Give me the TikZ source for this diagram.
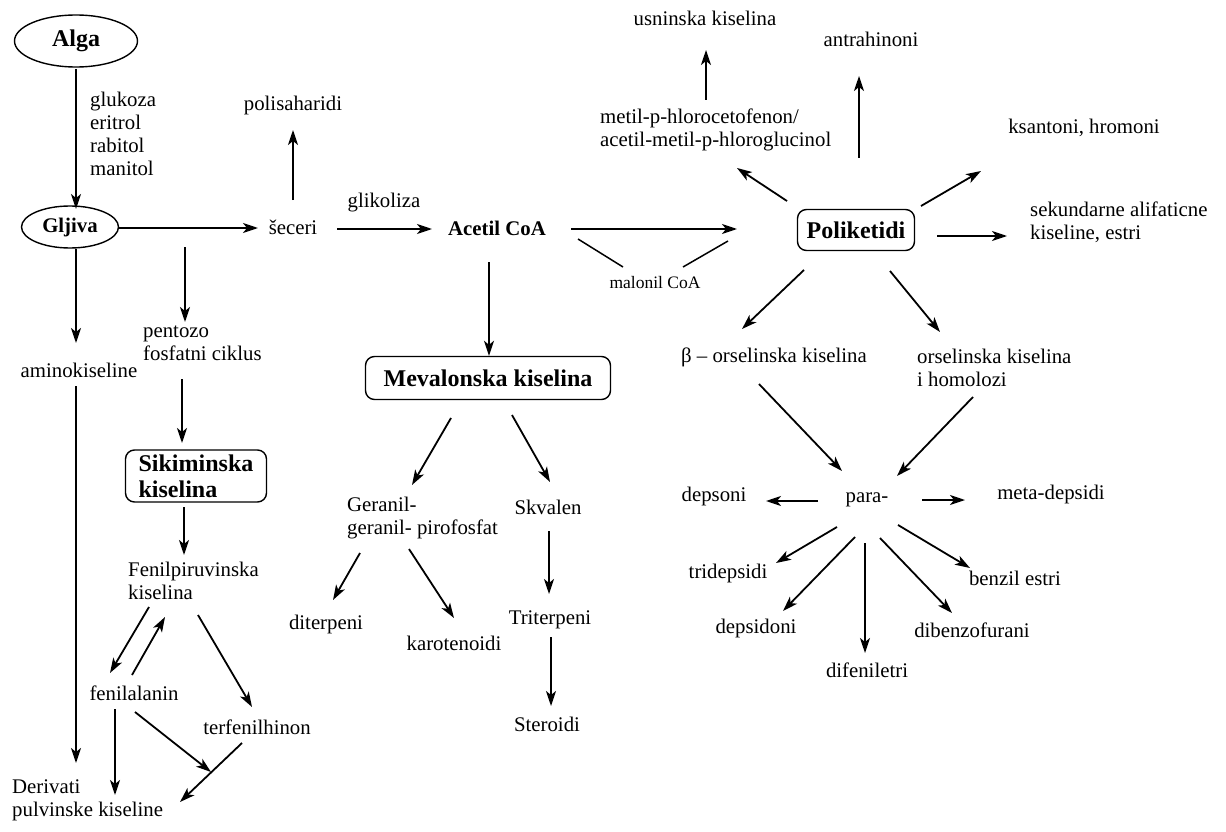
\documentclass[tikz,border=0pt]{standalone}
\usepackage{fontspec}
\setmainfont{Liberation Serif}
\usetikzlibrary{arrows.meta,positioning,shapes.geometric}

\begin{document}
\begin{tikzpicture}[x=1pt,y=-1pt,>={Stealth[length=15pt,width=10pt,inset=4pt]}]
  \tikzset{lbl/.style={inner sep=0pt, align=left, font=\fontsize{20.8}{23}\selectfont},
    block/.style={draw, rounded corners=9pt, line width=1.4pt, inner sep=0pt,
      font=\fontsize{24}{26}\selectfont\bfseries, align=left},
    oval/.style={draw, ellipse, line width=1.4pt, inner sep=0pt},
    arr/.style={->, line width=1.8pt},
    bond/.style={line width=1.5pt}}
  \useasboundingbox (0,0) rectangle (1226,832);

  % left part
  \node[oval, minimum width=123pt, minimum height=52pt,
    font=\fontsize{24}{26}\selectfont\bfseries] (alga) at (76,41) {Alga};
  \node[oval, minimum width=97pt, minimum height=42pt,
    font=\fontsize{20.8}{23}\selectfont\bfseries] (gljiva) at (70,227) {Gljiva};
  \node[lbl, anchor=west] (sugars) at (90,134) {glukoza\\eritrol\\rabitol\\manitol};
  \node[lbl] (secer) at (293,227) {šeceri};
  \node[lbl] (polisah) at (293,105) {polisaharidi};
  \node[lbl] (glik) at (384,203) {glikoliza};
  \node[lbl, font=\fontsize{20.8}{23}\selectfont\bfseries] (acetil) at (497,228) {Acetil CoA};
  \node[lbl, font=\fontsize{17.5}{20}\selectfont] (malonil) at (655,283) {malonil CoA};
  \node[lbl] (amino) at (79,370) {aminokiseline};
  \node[lbl, anchor=west] (pentozo) at (143,343) {pentozo\\fosfatni ciklus};
  \node[block, minimum width=141pt, minimum height=52pt] (sikim) at (196,476) {Sikiminska\\kiselina};
  \node[lbl, anchor=west] (fenilpir) at (128,581) {Fenilpiruvinska\\kiselina};
  \node[lbl] (fenilala) at (134,693) {fenilalanin};
  \node[lbl] (terfenil) at (257,727) {terfenilhinon};
  \node[lbl, anchor=west] (deriv) at (12,800) {Derivati\\pulvinske kiseline};
  \coordinate (fork) at (185,247);
  \coordinate (join) at (211,772);

  % mevalonska
  \node[block, minimum width=245pt, minimum height=43pt] (meva) at (488,378) {Mevalonska kiselina};
  \node[lbl, anchor=west] (geranil) at (347,518) {Geranil-\\geranil- pirofosfat};
  \node[lbl] (skvalen) at (548,507) {Skvalen};
  \node[lbl] (diterp) at (326,624) {diterpeni};
  \node[lbl] (karot) at (454,643) {karotenoidi};
  \node[lbl] (triterp) at (550,620) {Triterpeni};
  \node[lbl] (steroid) at (547,724) {Steroidi};

  % poliketidi
  \node[block, minimum width=117pt, minimum height=41pt] (poli) at (856,230) {Poliketidi};
  \node[lbl] (usnin) at (705,18) {usninska kiselina};
  \node[lbl, anchor=west] (metil) at (600,130) {metil-p-hlorocetofenon/\\acetil-metil-p-hloroglucinol};
  \node[lbl] (antrah) at (871,39) {antrahinoni};
  \node[lbl] (ksant) at (1084,128) {ksantoni, hromoni};
  \node[lbl, anchor=west] (sekund) at (1030,222) {sekundarne alifaticne\\kiseline, estri};
  \node[lbl] (betaors) at (774,357) {β – orselinska kiselina};
  \node[lbl, anchor=west] (orsel) at (917,368) {orselinska kiselina\\i homolozi};
  \node[lbl] (para) at (867,500) {para-};
  \node[lbl] (depsoni) at (714,496) {depsoni};
  \node[lbl] (metadep) at (1051,494) {meta-depsidi};
  \node[lbl] (tridep) at (728,573) {tridepsidi};
  \node[lbl] (depsidon) at (756,628) {depsidoni};
  \node[lbl] (difenil) at (867,670) {difeniletri};
  \node[lbl] (dibenzo) at (972,630) {dibenzofurani};
  \node[lbl] (benzil) at (1015,578) {benzil estri};

  % arrows, left
  \draw[arr] ([shift={(0,28)}]alga.center) -- ([shift={(6,-18)}]gljiva.center);
  \draw[arr] ([shift={(48,1)}]gljiva.center) -- ([shift={(-35,1)}]secer.center);
  \draw[arr] ([shift={(0,-27)}]secer.center) -- ([shift={(0,25)}]polisah.center);
  \draw[arr] ([shift={(44,2)}]secer.center) -- ([shift={(-65,1)}]acetil.center);
  \draw[arr] ([shift={(6,22)}]gljiva.center) -- ([shift={(-3,-27)}]amino.center);
  \draw[arr] (fork) -- ([shift={(42,-21)}]pentozo.west);
  \draw[arr] ([shift={(39,36)}]pentozo.west) -- ([shift={(-14,-33)}]sikim.center);
  \draw[arr] ([shift={(-3,16)}]amino.center) -- ([shift={(64,-37)}]deriv.west);
  \draw[arr] ([shift={(-12,31)}]sikim.center) -- ([shift={(56,-26)}]fenilpir.west);
  \draw[arr] ([shift={(21,26)}]fenilpir.west) -- ([shift={(-24,-20)}]fenilala.center);
  \draw[arr] ([shift={(-2,-18)}]fenilala.center) -- ([shift={(37,36)}]fenilpir.west);
  \draw[arr] ([shift={(70,34)}]fenilpir.west) -- ([shift={(-5,-20)}]terfenil.center);
  \draw[arr] ([shift={(-19,16)}]fenilala.center) -- ([shift={(103,-5)}]deriv.west);
  \draw[arr] ([shift={(1,19)}]fenilala.center) -- (join);
  \draw[arr] ([shift={(-15,16)}]terfenil.center) -- ([shift={(168,2)}]deriv.west);

  % arrows, middle
  \draw[arr] ([shift={(74,1)}]acetil.center) -- ([shift={(-119,-1)}]poli.center);
  \draw[bond] ([shift={(81,11)}]acetil.center) -- ([shift={(-32,-16)}]malonil.center);
  \draw[bond] ([shift={(28,-16)}]malonil.center) -- ([shift={(-128,11)}]poli.center);
  \draw[arr] ([shift={(-8,34)}]acetil.center) -- ([shift={(1,0)}]meva.north);
  \draw[arr] ([shift={(-37,40)}]meva.center) -- ([shift={(65,-33)}]geranil.west);
  \draw[arr] ([shift={(24,37)}]meva.center) -- ([shift={(2,-25)}]skvalen.center);
  \draw[arr] ([shift={(13,35)}]geranil.west) -- ([shift={(7,-24)}]diterp.center);
  \draw[arr] ([shift={(62,31)}]geranil.west) -- ([shift={(0,-25)}]karot.center);
  \draw[arr] ([shift={(1,24)}]skvalen.center) -- ([shift={(-1,-26)}]triterp.center);
  \draw[arr] ([shift={(1,17)}]triterp.center) -- ([shift={(4,-18)}]steroid.center);

  % arrows, right
  \draw[arr] ([shift={(106,-30)}]metil.west) -- ([shift={(1,32)}]usnin.center);
  \draw[arr] ([shift={(-69,-29)}]poli.center) -- ([shift={(137,38)}]metil.west);
  \draw[arr] ([shift={(3,-72)}]poli.center) -- ([shift={(-12,37)}]antrah.center);
  \draw[arr] ([shift={(65,-24)}]poli.center) -- ([shift={(-103,43)}]ksant.center);
  \draw[arr] ([shift={(81,6)}]poli.center) -- ([shift={(-23,14)}]sekund.west);
  \draw[arr] ([shift={(-52,40)}]poli.center) -- ([shift={(-32,-28)}]betaors.center);
  \draw[arr] ([shift={(34,41)}]poli.center) -- ([shift={(23,-36)}]orsel.west);
  \draw[arr] ([shift={(-15,27)}]betaors.center) -- ([shift={(-25,-29)}]para.center);
  \draw[arr] ([shift={(56,29)}]orsel.west) -- ([shift={(30,-24)}]para.center);
  \draw[arr] ([shift={(-49,1)}]para.center) -- ([shift={(52,5)}]depsoni.center);
  \draw[arr] ([shift={(55,0)}]para.center) -- ([shift={(-86,6)}]metadep.center);
  \draw[arr] ([shift={(-30,27)}]para.center) -- ([shift={(48,-10)}]tridep.center);
  \draw[arr] ([shift={(-12,37)}]para.center) -- ([shift={(27,-17)}]depsidon.center);
  \draw[arr] ([shift={(-2,43)}]para.center) -- ([shift={(-2,-17)}]difenil.center);
  \draw[arr] ([shift={(13,38)}]para.center) -- ([shift={(-20,-17)}]dibenzo.center);
  \draw[arr] ([shift={(31,25)}]para.center) -- ([shift={(-45,-10)}]benzil.center);
\end{tikzpicture}
\end{document}
